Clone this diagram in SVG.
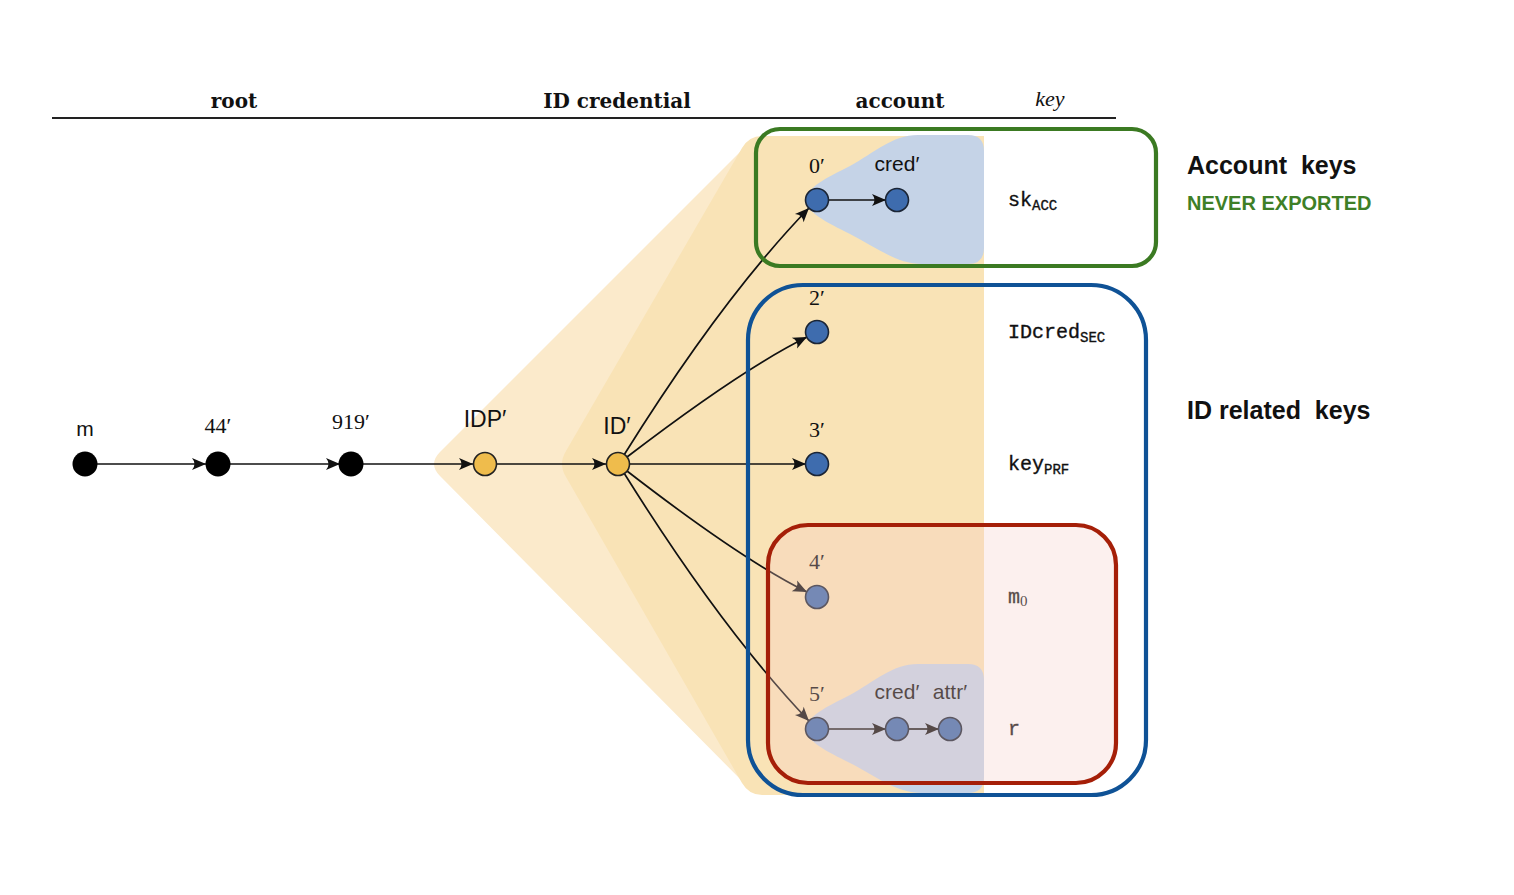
<svg xmlns="http://www.w3.org/2000/svg" width="1514" height="895" viewBox="0 0 1514 895">
<defs>
<marker id="arr" markerUnits="userSpaceOnUse" markerWidth="16" markerHeight="14" viewBox="-15 -7 16 14" refX="0" refY="0" orient="auto">
<path d="M0,0 L-14,-6 Q-9,0 -14,6 Z" fill="#111"/>
</marker>
<style>
.hdr{font-family:"DejaVu Serif","Liberation Serif",serif;font-weight:bold;font-size:20px;fill:#111;text-anchor:middle}
.ser{font-family:"Liberation Serif","DejaVu Serif",serif;font-size:22px;fill:#111;text-anchor:middle}
.sans{font-family:"Liberation Sans","DejaVu Sans",sans-serif;font-size:21px;fill:#111;text-anchor:middle}
.mono{font-family:"Liberation Mono","DejaVu Sans Mono",monospace;font-size:20px;fill:#111;stroke:#111;stroke-width:0.35}
.sub{font-size:14px}
.ttl{font-family:"Liberation Sans",Arial,sans-serif;font-weight:bold;font-size:25px;fill:#111;white-space:pre}
.blk{fill:#000}
.yel{fill:#efbc4c;stroke:#222;stroke-width:1.6}
.blu{fill:#3e6cae;stroke:#1b2535;stroke-width:1.6}
.edge{fill:none;stroke:#111;stroke-width:1.7;marker-end:url(#arr)}
.box{fill:none;stroke-width:4.2}
</style>
</defs>

<g id="background">
<path d="M 440,452 L 748,144 Q 756,136 768,136 L 984,136 L 984,795 L 768,795 Q 756,795 748,787 L 440,476 Q 428,464 440,452 Z" fill="#fbeacb"/>
<path d="M 566,451 L 742,148 Q 749,136 762,136 L 984,136 L 984,795 L 762,795 Q 749,795 742,783 L 566,477 Q 558,464 566,451 Z" fill="#f9e3b6"/>
<path id="blob-top" d="M 806,200 C 806,188 826,178 850,166 C 874,153 892,135 918,135 L 968,135 Q 984,135 984,151 L 984,248 Q 984,264 968,264 L 922,264 C 896,264 874,246 850,234 C 826,222 806,212 806,200 Z" fill="#c5d3e7"/>
<path id="blob-bottom" transform="translate(0,529)" d="M 806,200 C 806,188 826,178 850,166 C 874,153 892,135 918,135 L 968,135 Q 984,135 984,151 L 984,248 Q 984,264 968,264 L 922,264 C 896,264 874,246 850,234 C 826,222 806,212 806,200 Z" fill="#c5d3e7"/>
</g>

<g id="header">
<line x1="52" y1="118" x2="1116" y2="118" stroke="#222" stroke-width="2"/>
<text class="hdr" x="234" y="108">root</text>
<text class="hdr" x="617" y="108">ID credential</text>
<text class="hdr" x="900" y="108">account</text>
<text class="hdr" x="1050" y="106" style="font-weight:normal;font-style:italic;font-family:'Liberation Serif','DejaVu Serif',serif;font-size:22px">key</text>
</g>

<g id="connectors">
<line class="edge" x1="97" y1="464" x2="206" y2="464"/>
<line class="edge" x1="230" y1="464" x2="340" y2="464"/>
<line class="edge" x1="363" y1="464" x2="473" y2="464"/>
<line class="edge" x1="496" y1="464" x2="606" y2="464"/>
<path class="edge" d="M624,455 Q722,298 809,208"/>
<path class="edge" d="M627,457 Q742,369 807,337"/>
<line class="edge" x1="629" y1="464" x2="806" y2="464"/>
<path class="edge" d="M627,471 Q742,560 807,592"/>
<path class="edge" d="M624,473 Q722,630 809,721"/>
<line class="edge" x1="828" y1="200" x2="886" y2="200"/>
<line class="edge" x1="828" y1="729" x2="886" y2="729"/>
<line class="edge" x1="908" y1="729" x2="939" y2="729"/>
</g>

<g id="n-m"><circle class="blk" cx="85" cy="464" r="12.5"/><text class="sans" x="85" y="436">m</text></g>
<g id="n-44"><circle class="blk" cx="218" cy="464" r="12.5"/><text class="ser" x="218" y="433">44′</text></g>
<g id="n-919"><circle class="blk" cx="351" cy="464" r="12.5"/><text class="ser" x="351" y="429">919′</text></g>
<g id="n-idp"><circle class="yel" cx="485" cy="464" r="11.5"/><text class="sans" x="485" y="427" style="font-size:23px">IDP′</text></g>
<g id="n-id"><circle class="yel" cx="618" cy="464" r="11.5"/><text class="sans" x="617" y="434" style="font-size:23px">ID′</text></g>
<g id="n-0"><circle class="blu" cx="817" cy="200" r="11.5"/><text class="ser" x="817" y="173">0′</text></g>
<g id="n-cred0"><circle class="blu" cx="897" cy="200" r="11.5"/><text class="sans" x="897" y="171">cred′</text></g>
<g id="n-2"><circle class="blu" cx="817" cy="332" r="11.5"/><text class="ser" x="817" y="305">2′</text></g>
<g id="n-3"><circle class="blu" cx="817" cy="464" r="11.5"/><text class="ser" x="817" y="437">3′</text></g>
<g id="n-4"><circle class="blu" cx="817" cy="597" r="11.5"/><text class="ser" x="817" y="569">4′</text></g>
<g id="n-5"><circle class="blu" cx="817" cy="729" r="11.5"/><text class="ser" x="817" y="701">5′</text></g>
<g id="n-cred5"><circle class="blu" cx="897" cy="729" r="11.5"/><text class="sans" x="897" y="699">cred′</text></g>
<g id="n-attr"><circle class="blu" cx="950" cy="729" r="11.5"/><text class="sans" x="950" y="699">attr′</text></g>

<g id="key-labels">
<text class="mono" x="1008" y="206">sk<tspan class="sub" dy="4">ACC</tspan></text>
<text class="mono" x="1008" y="338">IDcred<tspan class="sub" dy="4">SEC</tspan></text>
<text class="mono" x="1008" y="470">key<tspan class="sub" dy="4">PRF</tspan></text>
<text class="mono" x="1008" y="603">m<tspan class="sub" dy="3" style="font-family:'Liberation Serif',serif;font-size:15px;stroke-width:0">0</tspan></text>
<text class="mono" x="1008" y="735">r</text>
</g>

<g id="red-group">
<rect x="768" y="525" width="348" height="258" rx="40" fill="#f5cdc6" fill-opacity="0.3"/>
<rect class="box" x="768" y="525" width="348" height="258" rx="40" stroke="#a51f08"/>
</g>
<g id="blue-group">
<rect class="box" x="748" y="285" width="398" height="510" rx="55" stroke="#0f5296"/>
</g>
<g id="green-group">
<rect class="box" x="756" y="129" width="400" height="137" rx="24" stroke="#3b7a22"/>
</g>

<g id="titles">
<text class="ttl" x="1187" y="174">Account  keys</text>
<text class="ttl" x="1187" y="210" style="font-size:20px;fill:#3e7f27">NEVER EXPORTED</text>
<text class="ttl" x="1187" y="419">ID related  keys</text>
</g>
</svg>
